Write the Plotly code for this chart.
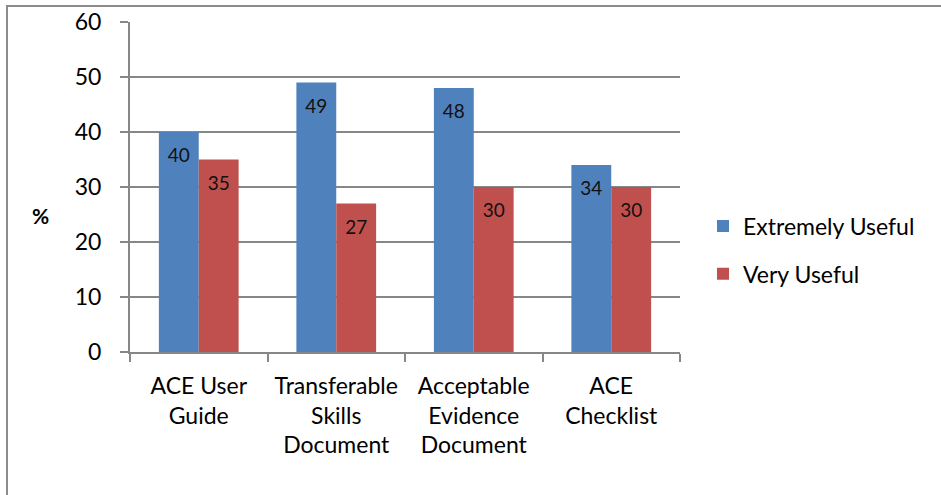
import plotly.graph_objects as go

categories = ["ACE User<br>Guide", "Transferable<br>Skills<br>Document",
              "Acceptable<br>Evidence<br>Document", "ACE<br>Checklist"]
extremely_useful = [40, 49, 48, 34]
very_useful = [35, 27, 30, 30]
y_ticks = [0, 10, 20, 30, 40, 50, 60]

FONT = "Lato"
GRID = "#878787"
BLUE = "#4F81BD"
RED = "#C0504D"

fig = go.Figure()
for name, vals, col in [("Extremely Useful", extremely_useful, BLUE),
                        ("Very Useful", very_useful, RED)]:
    fig.add_trace(go.Bar(
        x=categories, y=vals, name=name, legendgroup=name,
        marker=dict(color=col, line=dict(width=0)),
        offsetgroup=name, hoverinfo="skip",
    ))
for name, vals in [("Extremely Useful", extremely_useful),
                   ("Very Useful", very_useful)]:
    fig.add_trace(go.Scatter(
        x=categories, y=vals, mode="markers+text", showlegend=False,
        offsetgroup=name, text=[str(v) for v in vals],
        textposition="bottom center",
        textfont=dict(family=FONT, size=19, color="#111111"),
        marker=dict(size=24, color="rgba(0,0,0,0)"), hoverinfo="skip",
        cliponaxis=False,
    ))

fig.update_layout(
    width=941, height=495,
    margin=dict(l=130, r=261, t=22, b=143, autoexpand=False),
    paper_bgcolor="white", plot_bgcolor="white",
    barmode="group", bargap=0.42, bargroupgap=0,
    scattermode="group", scattergap=0.42,
    font=dict(family=FONT, size=23, color="#000000"),
    showlegend=True,
    legend=dict(xref="container", yref="container",
                x=703 / 941, y=1 - 250 / 495, xanchor="left", yanchor="middle",
                font=dict(family=FONT, size=23), itemwidth=30,
                tracegroupgap=15, bgcolor="rgba(0,0,0,0)"),
    xaxis=dict(
        type="category", showgrid=False, automargin=False,
        showline=True, linecolor=GRID, linewidth=2,
        ticks="outside", tickson="boundaries", ticklen=8,
        tickcolor=GRID, tickwidth=2, ticklabelstandoff=12,
        tickfont=dict(family=FONT, size=23),
    ),
    yaxis=dict(
        range=[0, 60], tickvals=y_ticks, automargin=False,
        showgrid=True, gridcolor=GRID, gridwidth=1.5,
        showline=True, linecolor=GRID, linewidth=2,
        ticks="outside", ticklen=8, tickcolor=GRID, tickwidth=2,
        ticklabelstandoff=14,
        tickfont=dict(family=FONT, size=23),
        zeroline=False,
    ),
    annotations=[dict(
        text="<b>%</b>", xref="paper", yref="paper",
        x=(40 - 130) / 550, y=(352 - 215) / 330,
        xanchor="center", yanchor="middle", showarrow=False,
        font=dict(family=FONT, size=21),
    )],
    shapes=[dict(
        type="rect", xref="paper", yref="paper",
        x0=(7 - 130) / 550, x1=(960 - 130) / 550,
        y0=(352 - 520) / 330, y1=(352 - 6) / 330,
        line=dict(color="#8C8C8C", width=2), fillcolor="rgba(0,0,0,0)",
        layer="below",
    )],
)

fig.write_html("out.html")
